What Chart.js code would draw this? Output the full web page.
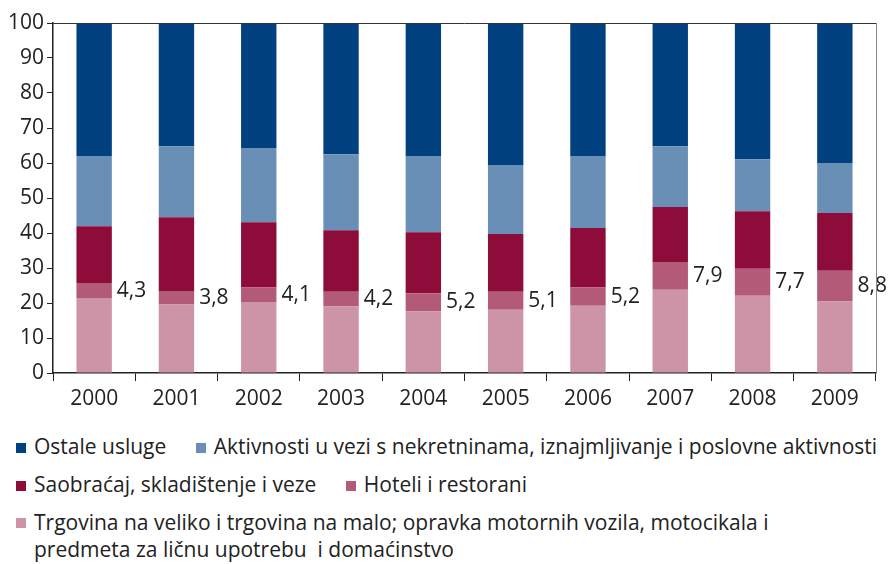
<!DOCTYPE html>
<html lang="sr">
<head>
    <meta charset="UTF-8">
    <title>Struktura usluga</title>
    <script src="https://cdn.jsdelivr.net/npm/chart.js"></script>
    <style>
        body {
            margin: 0;
            padding: 0;
            background-color: #fff;
            font-family: "Open Sans", Arial, sans-serif;
            color: #222;
        }
        .wrap {
            position: relative;
            width: 890px;
            height: 420px;
        }
        .legend {
            position: absolute;
            left: 16px;
            top: 433px;
            font-size: 21px;
            line-height: 27px;
            color: #222;
        }
        .legend .row {
            margin-bottom: 11px;
            white-space: nowrap;
        }
        .legend .item {
            display: inline-block;
            vertical-align: top;
            margin-right: 24px;
        }
        .legend .box {
            display: inline-block;
            width: 10px;
            height: 10px;
            margin-right: 8px;
            vertical-align: 1px;
        }
        .legend .multi {
            display: inline-block;
            vertical-align: top;
        }
    </style>
</head>
<body>
    <div class="wrap">
        <canvas id="myChart"></canvas>
    </div>
    <div class="legend">
        <div class="row">
            <span class="item"><span class="box" style="background:#02417f"></span>Ostale usluge</span>
            <span class="item"><span class="box" style="background:#698fb6"></span>Aktivnosti u vezi s nekretninama, iznajmljivanje i poslovne aktivnosti</span>
        </div>
        <div class="row">
            <span class="item"><span class="box" style="background:#8d0c3a"></span>Saobraćaj, skladištenje i veze</span>
            <span class="item"><span class="box" style="background:#b35a78"></span>Hoteli i restorani</span>
        </div>
        <div class="row" style="display:flex">
            <span class="box" style="background:#cd93a7;margin-top:9px;flex:none"></span>
            <span class="multi">Trgovina na veliko i trgovina na malo; opravka motornih vozila, motocikala i<br>predmeta za ličnu upotrebu&nbsp; i domaćinstvo</span>
        </div>
    </div>
    <script>
        const godine = ['2000', '2001', '2002', '2003', '2004', '2005', '2006', '2007', '2008', '2009'];
        const trgovina = [21.4, 19.6, 20.3, 19.0, 17.6, 18.1, 19.2, 23.8, 22.1, 20.4];
        const hoteli = [4.3, 3.8, 4.1, 4.2, 5.2, 5.1, 5.2, 7.9, 7.7, 8.8];
        const saobracaj = [16.2, 21.1, 18.7, 17.6, 17.4, 16.5, 17.0, 15.7, 16.4, 16.5];
        const aktivnosti = [20.1, 20.3, 21.2, 21.7, 21.8, 19.7, 20.6, 17.4, 14.9, 14.3];
        const ostale = [38.0, 35.2, 35.7, 37.5, 38.0, 40.6, 38.0, 35.2, 38.9, 40.0];
        const yTicks = [0, 10, 20, 30, 40, 50, 60, 70, 80, 90, 100];

        const font = { family: '"Open Sans", Arial, sans-serif', size: 21 };

        // brojke pored segmenta "Hoteli i restorani"
        const hoteliLabels = {
            id: 'hoteliLabels',
            afterDatasetsDraw(chart) {
                const ctx = chart.ctx;
                const meta = chart.getDatasetMeta(1);
                ctx.save();
                ctx.font = '21px "Open Sans", Arial, sans-serif';
                ctx.fillStyle = '#222';
                ctx.textAlign = 'left';
                ctx.textBaseline = 'middle';
                meta.data.forEach((bar, i) => {
                    const txt = hoteli[i].toFixed(1).replace('.', ',');
                    ctx.fillText(txt, bar.x + bar.width / 2 + 5, (bar.y + bar.base) / 2);
                });
                ctx.restore();
            }
        };

        // okvir gore i desno
        const okvir = {
            id: 'okvir',
            afterDraw(chart) {
                const a = chart.chartArea;
                const ctx = chart.ctx;
                ctx.save();
                ctx.lineWidth = 1;
                ctx.strokeStyle = '#333';
                ctx.beginPath();
                ctx.moveTo(a.left, a.top + 0.5);
                ctx.lineTo(a.right, a.top + 0.5);
                ctx.stroke();
                ctx.strokeStyle = '#888';
                ctx.beginPath();
                ctx.moveTo(a.right + 0.5, a.top);
                ctx.lineTo(a.right + 0.5, a.bottom);
                ctx.stroke();
                ctx.restore();
            }
        };

        const ctx = document.getElementById('myChart').getContext('2d');
        new Chart(ctx, {
            type: 'bar',
            data: {
                labels: godine,
                datasets: [
                    { label: 'Trgovina na veliko i trgovina na malo; opravka motornih vozila, motocikala i predmeta za ličnu upotrebu i domaćinstvo', data: trgovina, backgroundColor: '#cd93a7' },
                    { label: 'Hoteli i restorani', data: hoteli, backgroundColor: '#b35a78' },
                    { label: 'Saobraćaj, skladištenje i veze', data: saobracaj, backgroundColor: '#8d0c3a' },
                    { label: 'Aktivnosti u vezi s nekretninama, iznajmljivanje i poslovne aktivnosti', data: aktivnosti, backgroundColor: '#698fb6' },
                    { label: 'Ostale usluge', data: ostale, backgroundColor: '#02417f' }
                ]
            },
            options: {
                responsive: true,
                maintainAspectRatio: false,
                animation: false,
                barPercentage: 0.43,
                categoryPercentage: 1,
                layout: { padding: { left: 0, top: 23, right: 14, bottom: 0 } },
                plugins: {
                    legend: { display: false },
                    tooltip: { enabled: false }
                },
                scales: {
                    x: {
                        stacked: true,
                        grid: { drawOnChartArea: false, offset: true, tickLength: 8, color: '#222' },
                        border: { color: '#222', width: 1.5 },
                        ticks: { color: '#222', padding: 5, font: font },
                        afterFit(scale) { scale.height = 47; }
                    },
                    y: {
                        stacked: true,
                        min: 0,
                        max: 100,
                        afterBuildTicks(scale) { scale.ticks = yTicks.map(v => ({ value: v })); },
                        grid: { drawOnChartArea: false, tickLength: 6, color: '#222' },
                        border: { color: '#222', width: 1.5 },
                        ticks: { color: '#222', padding: 3, font: font },
                        afterFit(scale) { scale.width = 53; }
                    }
                }
            },
            plugins: [hoteliLabels, okvir]
        });
    </script>
</body>
</html>
